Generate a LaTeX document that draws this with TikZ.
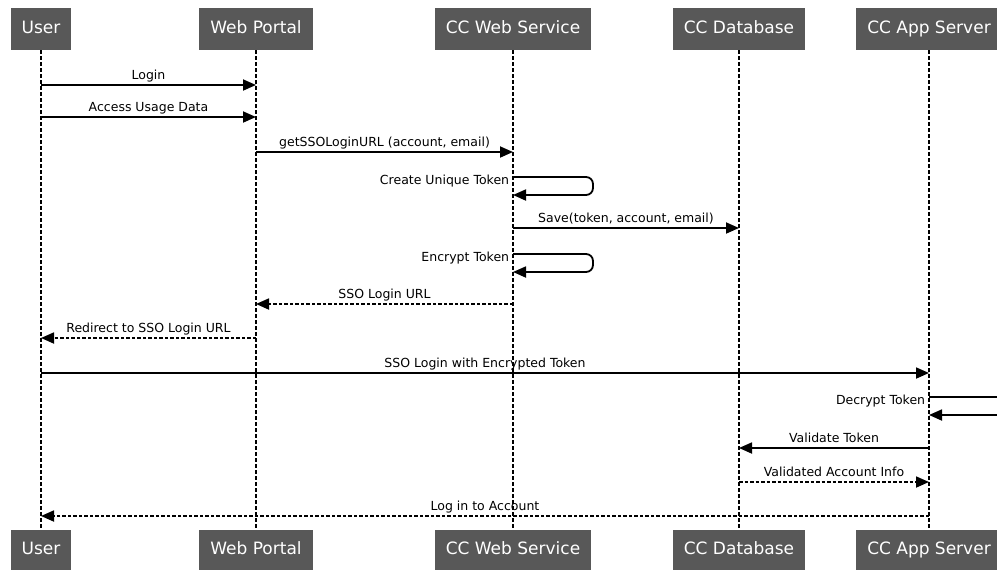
\documentclass[tikz,border=0pt]{standalone}
\usepackage{fontspec}
\setmainfont{DejaVu Sans}
\usetikzlibrary{arrows.meta}
\definecolor{boxgray}{RGB}{88,88,88}

\begin{document}
\begin{tikzpicture}[
  x=1pt, y=-1pt,
  actor/.style={
    fill=boxgray, text=white,
    inner xsep=11pt, inner ysep=0pt,
    text height=12pt, text depth=3.5pt,
    font=\fontsize{17pt}{19pt}\selectfont
  },
  life/.style={line width=2pt, dash pattern=on 3.5pt off 2.5pt},
  msg/.style={line width=1.8pt, -{Triangle[length=13pt,width=11pt]}},
  reply/.style={msg, dash pattern=on 3.5pt off 2pt},
  lbl/.style={above=1pt, inner sep=1pt, text depth=3pt,
    font=\fontsize{12.5pt}{14pt}\selectfont},
  note/.style={left=2pt, inner sep=1pt, yshift=-4pt,
    font=\fontsize{12.5pt}{14pt}\selectfont}
]
\clip (0,0) rectangle (997,571);

% --- Participants and lifelines ---
\foreach \name/\x/\txt in {user/41/User, portal/256/Web Portal,
    ws/513/CC Web Service, db/739/CC Database, app/929/CC App Server} {
  \node[actor, minimum height=42pt] (top-\name) at (\x,29) {\txt};
  \node[actor, minimum height=40pt] (bot-\name) at (\x,550) {\txt};
  \draw[life] (top-\name) -- (bot-\name);
}

% --- Login ---
\draw[msg] (top-user |- 0,85) -- node[lbl] {Login} (top-portal |- 0,85);
\draw[msg] (top-user |- 0,117) -- node[lbl] {Access Usage Data} (top-portal |- 0,117);
\draw[msg] (top-portal |- 0,152) -- node[lbl] {getSSOLoginURL (account, email)} (top-ws |- 0,152);

% --- Token ---
\draw[msg, rounded corners=7pt] (top-ws |- 0,177) node[note] {Create Unique Token}
  -| ++(80,18) -- (top-ws |- 0,195);
\draw[msg] (top-ws |- 0,228) -- node[lbl] {Save(token, account, email)} (top-db |- 0,228);
\draw[msg, rounded corners=7pt] (top-ws |- 0,254) node[note] {Encrypt Token}
  -| ++(80,18) -- (top-ws |- 0,272);
\draw[reply] (top-ws |- 0,304) -- node[lbl] {SSO Login URL} (top-portal |- 0,304);
\draw[reply] (top-portal |- 0,338) -- node[lbl] {Redirect to SSO Login URL} (top-user |- 0,338);

% --- SSO ---
\draw[msg] (top-user |- 0,373) -- node[lbl] {SSO Login with Encrypted Token} (top-app |- 0,373);
\draw[msg, rounded corners=7pt] (top-app |- 0,397) node[note] {Decrypt Token}
  -| ++(80,18) -- (top-app |- 0,415);
\draw[msg] (top-app |- 0,448) -- node[lbl] {Validate Token} (top-db |- 0,448);
\draw[reply] (top-db |- 0,482) -- node[lbl] {Validated Account Info} (top-app |- 0,482);
\draw[reply] (top-app |- 0,516) -- node[lbl] {Log in to Account} (top-user |- 0,516);

\end{tikzpicture}
\end{document}
